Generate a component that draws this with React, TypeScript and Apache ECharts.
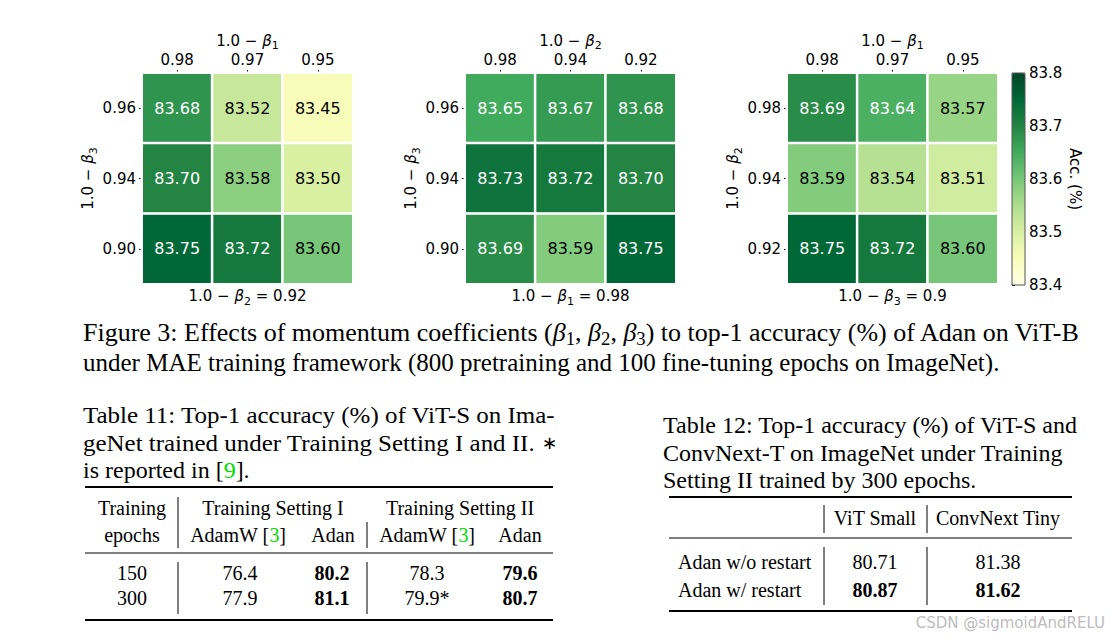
import React, { useEffect, useRef } from "react";
import * as echarts from "echarts";

// ---------- Heatmap data ----------
const h1X = ["0.98", "0.97", "0.95"]; // 1.0 - beta1
const h1Y = ["0.96", "0.94", "0.90"]; // 1.0 - beta3
const h1Values = [
  [83.68, 83.52, 83.45],
  [83.7, 83.58, 83.5],
  [83.75, 83.72, 83.6],
];
const h2X = ["0.98", "0.94", "0.92"]; // 1.0 - beta2
const h2Y = ["0.96", "0.94", "0.90"]; // 1.0 - beta3
const h2Values = [
  [83.65, 83.67, 83.68],
  [83.73, 83.72, 83.7],
  [83.69, 83.59, 83.75],
];
const h3X = ["0.98", "0.97", "0.95"]; // 1.0 - beta1
const h3Y = ["0.98", "0.94", "0.92"]; // 1.0 - beta2
const h3Values = [
  [83.69, 83.64, 83.57],
  [83.59, 83.54, 83.51],
  [83.75, 83.72, 83.6],
];
const colorMin = 83.4;
const colorMax = 83.8;
const colorStep = 0.1;

const panelTopNames = ["1", "2", "1"]; // subscript of top axis beta
const panelLeftNames = ["3", "3", "2"];
const panelFixed = [
  { sub: "2", val: "0.92" },
  { sub: "1", val: "0.98" },
  { sub: "3", val: "0.9" },
];

// ---------- Caption / tables ----------
const figCaption = [
  "Figure 3: Effects of momentum coefficients ({i|β}{s|1}, {i|β}{s|2}, {i|β}{s|3}) to top-1 accuracy (%) of Adan on ViT-B",
  "under MAE training framework (800 pretraining and 100 fine-tuning epochs on ImageNet).",
];
const t11Caption = [
  "Table 11: Top-1 accuracy (%) of ViT-S on Ima-",
  "geNet trained under Training Setting I and II. {a|∗}",
  "is reported in [{g|9}].",
];
const t11Groups = ["Training Setting I", "Training Setting II"];
const t11SubHeaders = ["AdamW [{g|3}]", "Adan", "AdamW [{g|3}]", "Adan"];
const t11Epochs = ["150", "300"];
const t11AdamW1 = ["76.4", "77.9"];
const t11Adan1 = ["80.2", "81.1"];
const t11AdamW2 = ["78.3", "79.9*"];
const t11Adan2 = ["79.6", "80.7"];

const t12Caption = [
  "Table 12: Top-1 accuracy (%) of ViT-S and",
  "ConvNext-T on ImageNet under Training",
  "Setting II trained by 300 epochs.",
];
const t12Headers = ["ViT Small", "ConvNext Tiny"];
const t12Methods = ["Adan w/o restart", "Adan w/ restart"];
const t12ViTSmall = ["80.71", "80.87"];
const t12ConvNextTiny = ["81.38", "81.62"];
const t12BoldRow = 1;

const watermark = "CSDN @sigmoidAndRELU";

// ---------- styling ----------
const YlGn = ["#ffffe5", "#f7fcb9", "#d9f0a3", "#addd8e", "#78c679", "#41ab5d", "#238443", "#006837", "#004529"];
const SANS = "DejaVu Sans";
const SERIF = "Liberation Serif";

const mathRich = (size: number, family: string) => ({
  i: { fontStyle: "italic", fontSize: size, fontFamily: family, color: "#000", fill: "#000" },
  s: { fontSize: Math.round(size * 0.7), fontFamily: family, color: "#000", fill: "#000", verticalAlign: "bottom", padding: [0, 0, -3, 0] },
  g: { fontSize: size, fontFamily: family, color: "#00dd00", fill: "#00dd00" },
  a: { fontSize: Math.round(size * 0.75), fontFamily: "DejaVu Sans", color: "#000", fill: "#000" },
});

function txt(x: number, y: number, text: string, opts: any = {}) {
  const size = opts.size ?? 21;
  const family = opts.family ?? SERIF;
  return {
    type: "text",
    x,
    y,
    scaleX: opts.scaleX ?? 1,
    silent: true,
    style: {
      text,
      fontSize: size,
      fontFamily: family,
      fontWeight: opts.bold ? "bold" : "normal",
      fill: opts.color ?? "#000",
      align: opts.align ?? "left",
      textAlign: opts.align ?? "left",
      verticalAlign: "middle",
      textVerticalAlign: "middle",
      rich: mathRich(size, family),
    },
  };
}
function hline(x1: number, x2: number, y: number, w: number) {
  return { type: "line", silent: true, shape: { x1, y1: y, x2, y2: y }, style: { stroke: "#000", lineWidth: w } };
}
function vline(x: number, y1: number, y2: number) {
  return { type: "line", silent: true, shape: { x1: x, y1, x2: x, y2 }, style: { stroke: "#000", lineWidth: 1 } };
}

export default function App() {
  const ref = useRef<HTMLDivElement>(null);
  useEffect(() => {
    if (!ref.current) return;
    const chart = echarts.init(ref.current, undefined, { renderer: "svg" });

    const panels = [
      { x: h1X, y: h1Y, v: h1Values, left: 142 },
      { x: h2X, y: h2Y, v: h2Values, left: 465 },
      { x: h3X, y: h3Y, v: h3Values, left: 787 },
    ];
    const gridTop = 73;
    const gridSize = 211;

    const grids: any[] = panels.map((p) => ({ left: p.left, top: gridTop, width: gridSize, height: gridSize }));
    grids.push({ left: 1012, top: gridTop, width: 13, height: 212, show: true, borderColor: "#555", borderWidth: 1, backgroundColor: "transparent", z: 10 });

    const axisLabelStyle = { fontSize: 15, color: "#000", fontFamily: SANS };
    const xAxes: any[] = panels.map((p, i) => ({
      type: "category",
      gridIndex: i,
      position: "top",
      data: p.x,
      axisLine: { show: false },
      axisTick: { show: true, alignWithLabel: true, length: 3, lineStyle: { color: "#000" } },
      axisLabel: { ...axisLabelStyle, margin: 6 },
      splitLine: { show: false },
      name: `1.0 − {i|β}{s|${panelTopNames[i]}}`,
      nameLocation: "middle",
      nameGap: 18,
      nameTextStyle: { ...axisLabelStyle, rich: mathRich(15, SANS) },
    }));
    xAxes.push({ type: "value", gridIndex: 3, show: false, min: 0, max: 1 });

    const yAxes: any[] = panels.map((p, i) => ({
      type: "category",
      gridIndex: i,
      inverse: true,
      data: p.y,
      axisLine: { show: false },
      axisTick: { show: true, alignWithLabel: true, length: 3, lineStyle: { color: "#000" } },
      axisLabel: { ...axisLabelStyle, margin: 6 },
      splitLine: { show: false },
      name: `1.0 − {i|β}{s|${panelLeftNames[i]}}`,
      nameLocation: "middle",
      nameGap: 41,
      nameTextStyle: { ...axisLabelStyle, rich: mathRich(15, SANS) },
    }));
    yAxes.push({
      type: "value",
      gridIndex: 3,
      position: "right",
      min: colorMin,
      max: colorMax,
      interval: colorStep,
      axisLine: { show: false },
      axisTick: { show: true, length: 3, lineStyle: { color: "#000" } },
      axisLabel: { ...axisLabelStyle, margin: 4, formatter: (v: number) => v.toFixed(1) },
      splitLine: { show: false },
      name: "Acc. (%)",
      nameLocation: "middle",
      nameRotate: -90,
      nameGap: 42,
      nameTextStyle: { ...axisLabelStyle },
    });

    const series: any[] = panels.map((p, i) => ({
      type: "heatmap",
      xAxisIndex: i,
      yAxisIndex: i,
      data: p.v.flatMap((row, yi) =>
        row.map((val, xi) => ({
          value: [xi, yi, val],
          label: { color: val > 83.62 ? "#fff" : "#000" },
        }))
      ),
      itemStyle: { borderColor: "#fff", borderWidth: 2.5 },
      label: {
        show: true,
        fontSize: 16,
        fontFamily: SANS,
        formatter: (d: any) => d.value[2].toFixed(2),
      },
      emphasis: { disabled: true },
    }));

    const graphics: any[] = [];
    // bottom fixed labels
    panels.forEach((p, i) => {
      graphics.push(
        txt(p.left + gridSize / 2, 296, `1.0 − {i|β}{s|${panelFixed[i].sub}} = ${panelFixed[i].val}`, { size: 15, family: SANS, align: "center" })
      );
    });
    // figure caption
    figCaption.forEach((line, k) => graphics.push(txt(83, 333 + k * 29, line, { size: 25, scaleX: k === 0 ? 1.04 : 1 })));

    // Table 11
    t11Caption.forEach((line, k) => graphics.push(txt(83, 415 + k * 27.5, line, { size: 24, scaleX: k < 2 ? 1.04 : 1 })));
    graphics.push(hline(85, 553, 487, 2));
    graphics.push(hline(85, 553, 553, 1));
    graphics.push(hline(85, 553, 620, 2));
    graphics.push(vline(178, 497, 548));
    graphics.push(vline(367, 522, 548));
    graphics.push(vline(178, 562, 614));
    graphics.push(vline(367, 562, 614));
    graphics.push(txt(132, 508, "Training", { align: "center", size: 20 }));
    graphics.push(txt(132, 535, "epochs", { align: "center", size: 20 }));
    graphics.push(txt(273, 508, t11Groups[0], { align: "center", size: 20 }));
    graphics.push(txt(460, 508, t11Groups[1], { align: "center", size: 20 }));
    const t11ColX = [238, 333, 427, 520];
    t11SubHeaders.forEach((h, k) => graphics.push(txt(t11ColX[k], 535, h, { align: "center", size: 20 })));
    const t11RowY = [573, 598];
    t11Epochs.forEach((e, r) => {
      graphics.push(txt(132, t11RowY[r], e, { align: "center", size: 20 }));
      graphics.push(txt(240, t11RowY[r], t11AdamW1[r], { align: "center", size: 20 }));
      graphics.push(txt(332, t11RowY[r], t11Adan1[r], { align: "center", size: 20, bold: true }));
      graphics.push(txt(427, t11RowY[r], t11AdamW2[r], { align: "center", size: 20 }));
      graphics.push(txt(520, t11RowY[r], t11Adan2[r], { align: "center", size: 20, bold: true }));
    });

    // Table 12
    t12Caption.forEach((line, k) => graphics.push(txt(663, 425 + k * 27.5, line, { size: 24 })));
    graphics.push(hline(669, 1072, 497, 2));
    graphics.push(hline(669, 1072, 538, 1));
    graphics.push(hline(669, 1072, 611, 2));
    graphics.push(vline(824, 505, 533));
    graphics.push(vline(927, 505, 533));
    graphics.push(vline(824, 547, 605));
    graphics.push(vline(927, 547, 605));
    graphics.push(txt(875, 518, t12Headers[0], { align: "center", size: 20 }));
    graphics.push(txt(998, 518, t12Headers[1], { align: "center", size: 20 }));
    const t12RowY = [562, 590];
    t12Methods.forEach((m, r) => {
      const bold = r === t12BoldRow;
      graphics.push(txt(678, t12RowY[r], m, { size: 20 }));
      graphics.push(txt(875, t12RowY[r], t12ViTSmall[r], { align: "center", size: 20, bold }));
      graphics.push(txt(998, t12RowY[r], t12ConvNextTiny[r], { align: "center", size: 20, bold }));
    });

    graphics.push(txt(1105, 623, watermark, { size: 15, family: SANS, align: "right", color: "#bdbdbd" }));

    chart.setOption({
      animation: false,
      backgroundColor: "#fff",
      grid: grids,
      xAxis: xAxes,
      yAxis: yAxes,
      visualMap: {
        type: "continuous",
        min: colorMin,
        max: colorMax,
        seriesIndex: [0, 1, 2],
        inRange: { color: YlGn },
        left: 1012,
        top: gridTop,
        itemWidth: 13,
        itemHeight: 212,
        padding: 0,
        calculable: false,
        hoverLink: false,
        orient: "vertical",
      },
      series,
      graphic: graphics,
    });
    return () => chart.dispose();
  }, []);

  return (
    <div
      ref={ref}
      style={{ position: "absolute", left: 0, top: 0, width: 1120, height: 643 }}
    />
  );
}
